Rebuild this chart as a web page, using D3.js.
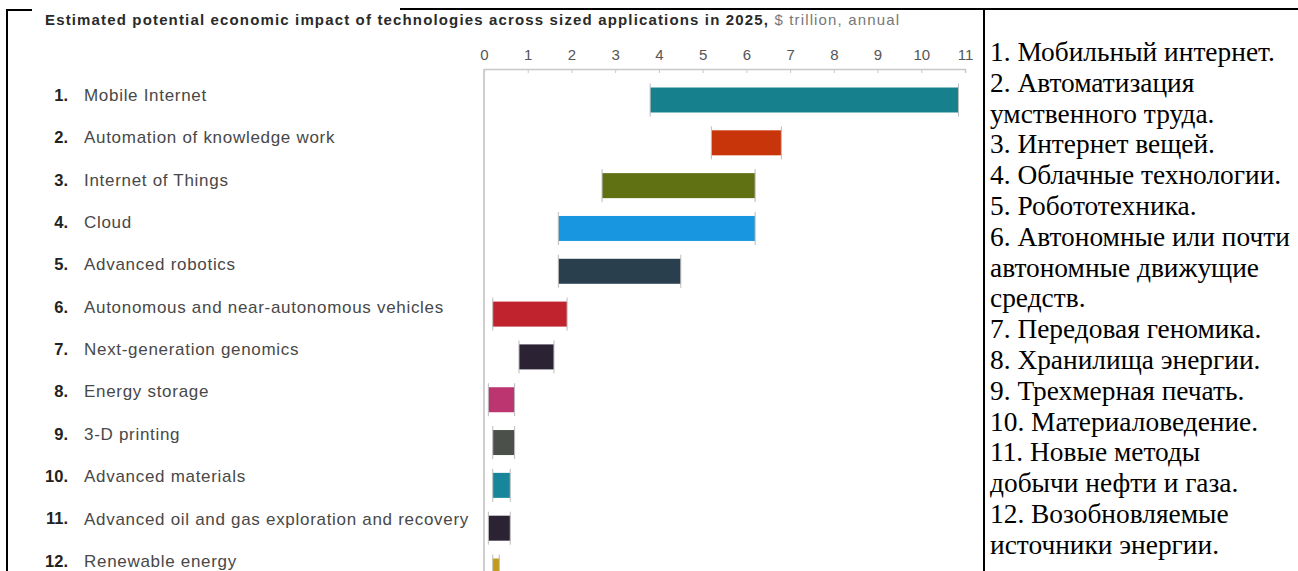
<!DOCTYPE html>
<html>
<head>
<meta charset="utf-8">
<script src="https://cdn.jsdelivr.net/npm/d3@7"></script>
<style>
  body { margin: 0; background: #fff; }
  svg { display: block; }
</style>
</head>
<body>
<svg id="chart" width="1298" height="571"></svg>
<script>
// Chart data
var numbers = ["1.", "2.", "3.", "4.", "5.", "6.", "7.", "8.", "9.", "10.", "11.", "12."];
var categories = [
    "Mobile Internet",
    "Automation of knowledge work",
    "Internet of Things",
    "Cloud",
    "Advanced robotics",
    "Autonomous and near-autonomous vehicles",
    "Next-generation genomics",
    "Energy storage",
    "3-D printing",
    "Advanced materials",
    "Advanced oil and gas exploration and recovery",
    "Renewable energy"
];
var lowValues = [3.8, 5.2, 2.7, 1.7, 1.7, 0.2, 0.8, 0.1, 0.2, 0.2, 0.1, 0.2];
var highValues = [10.85, 6.8, 6.2, 6.2, 4.5, 1.9, 1.6, 0.7, 0.7, 0.6, 0.6, 0.35];
var barColors = ["#16808d", "#c8350b", "#5f7112", "#1897e0", "#2a3f4e", "#c0222e",
    "#2b2334", "#bc3470", "#4b514a", "#17869a", "#2b2334", "#c49a1a"];
var ticks = [0, 1, 2, 3, 4, 5, 6, 7, 8, 9, 10, 11];

// Russian translation shown in the right cell
var notes = [
    "1. Мобильный интернет.",
    "2. Автоматизация",
    "умственного труда.",
    "3. Интернет вещей.",
    "4. Облачные технологии.",
    "5. Робототехника.",
    "6. Автономные или почти",
    "автономные движущие",
    "средств.",
    "7. Передовая геномика.",
    "8. Хранилища энергии.",
    "9. Трехмерная печать.",
    "10. Материаловедение.",
    "11. Новые методы",
    "добычи нефти и газа.",
    "12. Возобновляемые",
    "источники энергии."
];

var svg = d3.select("#chart");
var sans = "'Liberation Sans', Arial, sans-serif";

// Table borders
var border = svg.append("g").attr("stroke", "#000").attr("stroke-width", 2);
border.append("line").attr("x1", 7).attr("x2", 7).attr("y1", 9).attr("y2", 571);
border.append("line").attr("x1", 6).attr("x2", 32).attr("y1", 10).attr("y2", 10);
border.append("line").attr("x1", 400).attr("x2", 1298).attr("y1", 9).attr("y2", 9);
border.append("line").attr("x1", 984).attr("x2", 984).attr("y1", 9).attr("y2", 571);

// Scales
var xScale = d3.scaleLinear()
    .domain([0, 11])
    .range([484, 965]);

var yScale = d3.scalePoint()
    .domain(categories)
    .range([100, 571]);

// labels sit a little above the bar centres
var labelScale = d3.scalePoint()
    .domain(categories)
    .range([95, 561]);

var barH = 25;

// Title
var title = svg.append("text")
    .attr("x", 45)
    .attr("y", 25)
    .attr("font-family", sans)
    .attr("font-size", 15)
    .attr("letter-spacing", 1.15);
title.append("tspan")
    .attr("font-weight", "bold")
    .attr("fill", "#2a2a2a")
    .text("Estimated potential economic impact of technologies across sized applications in 2025,");
title.append("tspan")
    .attr("fill", "#777")
    .text(" $ trillion, annual");

// Top axis
var xAxis = d3.axisTop(xScale)
    .tickValues(ticks)
    .tickSize(-4)
    .tickPadding(9)
    .tickFormat(d3.format("d"));

var axisG = svg.append("g")
    .attr("transform", "translate(0,69)")
    .call(xAxis);
axisG.select(".domain").attr("stroke", "#c8c8c8").attr("stroke-width", 1.5);
axisG.selectAll(".tick line").attr("stroke", "#c8c8c8");
axisG.selectAll(".tick text")
    .attr("fill", "#555")
    .attr("font-family", sans)
    .attr("font-size", 15);

// Vertical zero line
svg.append("line")
    .attr("x1", xScale(0)).attr("x2", xScale(0))
    .attr("y1", 69).attr("y2", 571)
    .attr("stroke", "#cfcfcf")
    .attr("stroke-width", 2);

// Row labels
var rows = svg.selectAll(".row")
    .data(categories)
    .enter()
    .append("g")
    .attr("class", "row");

rows.append("text")
    .attr("x", 68)
    .attr("y", function (d) { return labelScale(d); })
    .attr("dy", "0.35em")
    .attr("text-anchor", "end")
    .attr("font-family", sans)
    .attr("font-size", 16.5)
    .attr("font-weight", "bold")
    .attr("fill", "#222")
    .text(function (d, i) { return numbers[i]; });

rows.append("text")
    .attr("x", 84)
    .attr("y", function (d) { return labelScale(d); })
    .attr("dy", "0.35em")
    .attr("font-family", sans)
    .attr("font-size", 17)
    .attr("letter-spacing", 0.7)
    .attr("fill", "#484848")
    .text(function (d) { return d; });

// Range bars with small end whiskers
rows.append("rect")
    .attr("x", function (d, i) { return xScale(lowValues[i]); })
    .attr("y", function (d) { return yScale(d) - barH / 2; })
    .attr("width", function (d, i) { return xScale(highValues[i]) - xScale(lowValues[i]); })
    .attr("height", barH)
    .attr("fill", function (d, i) { return barColors[i]; });

rows.selectAll(".whisker")
    .data(function (d, i) { return [lowValues[i], highValues[i]].map(function (v) { return { v: v, c: d }; }); })
    .enter()
    .append("line")
    .attr("class", "whisker")
    .attr("x1", function (w) { return xScale(w.v); })
    .attr("x2", function (w) { return xScale(w.v); })
    .attr("y1", function (w) { return yScale(w.c) - barH / 2 - 4; })
    .attr("y2", function (w) { return yScale(w.c) + barH / 2 + 4; })
    .attr("stroke", "#bbb")
    .attr("stroke-width", 1);

// Right cell text
svg.append("g")
    .selectAll("text")
    .data(notes)
    .enter()
    .append("text")
    .attr("x", 990)
    .attr("y", function (d, i) { return 61 + i * 30.8; })
    .attr("font-family", "'Liberation Serif', 'Times New Roman', serif")
    .attr("font-size", 27.4)
    .attr("fill", "#000")
    .text(function (d) { return d; });
</script>
</body>
</html>
